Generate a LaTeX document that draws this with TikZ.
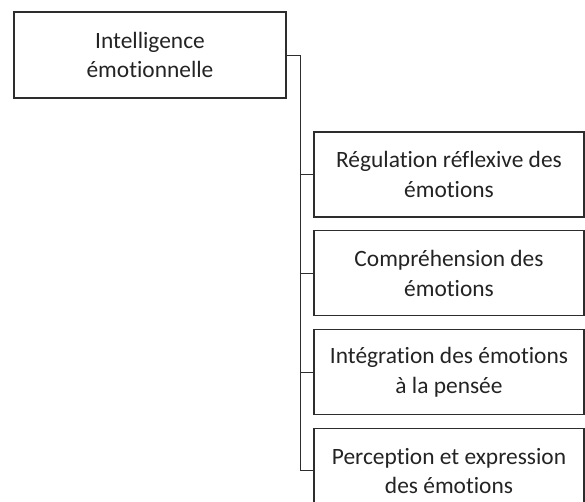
\documentclass[tikz,border=0pt]{standalone}
\usepackage{fontspec}
\setmainfont{Carlito}[Ligatures=CommonOff]
\usetikzlibrary{positioning}
\definecolor{BoxGray}{RGB}{45,45,45}
\definecolor{TextGray}{RGB}{35,35,35}

\begin{document}
\begin{tikzpicture}[x=1pt,y=-1pt,
    box/.style={draw=BoxGray,line width=1.3pt,text=TextGray,
      minimum width=270pt,minimum height=85pt,inner sep=0pt,
      align=center,font=\fontsize{23.4}{29.5}\selectfont},
    link/.style={draw=BoxGray,line width=0.9pt}]
  \useasboundingbox (0,0) rectangle (585,502);
  \clip (0,0) rectangle (585,502);
  \node[box,minimum width=272pt,minimum height=86pt] (ie) at (150,55)
    {Intelligence\\émotionnelle};
  \node[box] (reg) at (449,174.5) {Régulation réflexive des\\émotions};
  \node[box,below=12.5pt of reg] (comp) {Compréhension des\\émotions};
  \node[box,below=12.5pt of comp] (integ) {Intégration des émotions\\à la pensée};
  \node[box,below=12.5pt of integ] (perc) {Perception et expression\\des émotions};
  \coordinate (bus) at (300,0);
  % tree connector
  \draw[link] (ie.east) -| (bus |- perc.west) -- (perc.west);
  \draw[link] (bus |- reg.west) -- (reg.west);
  \draw[link] (bus |- comp.west) -- (comp.west);
  \draw[link] (bus |- integ.west) -- (integ.west);
\end{tikzpicture}
\end{document}
